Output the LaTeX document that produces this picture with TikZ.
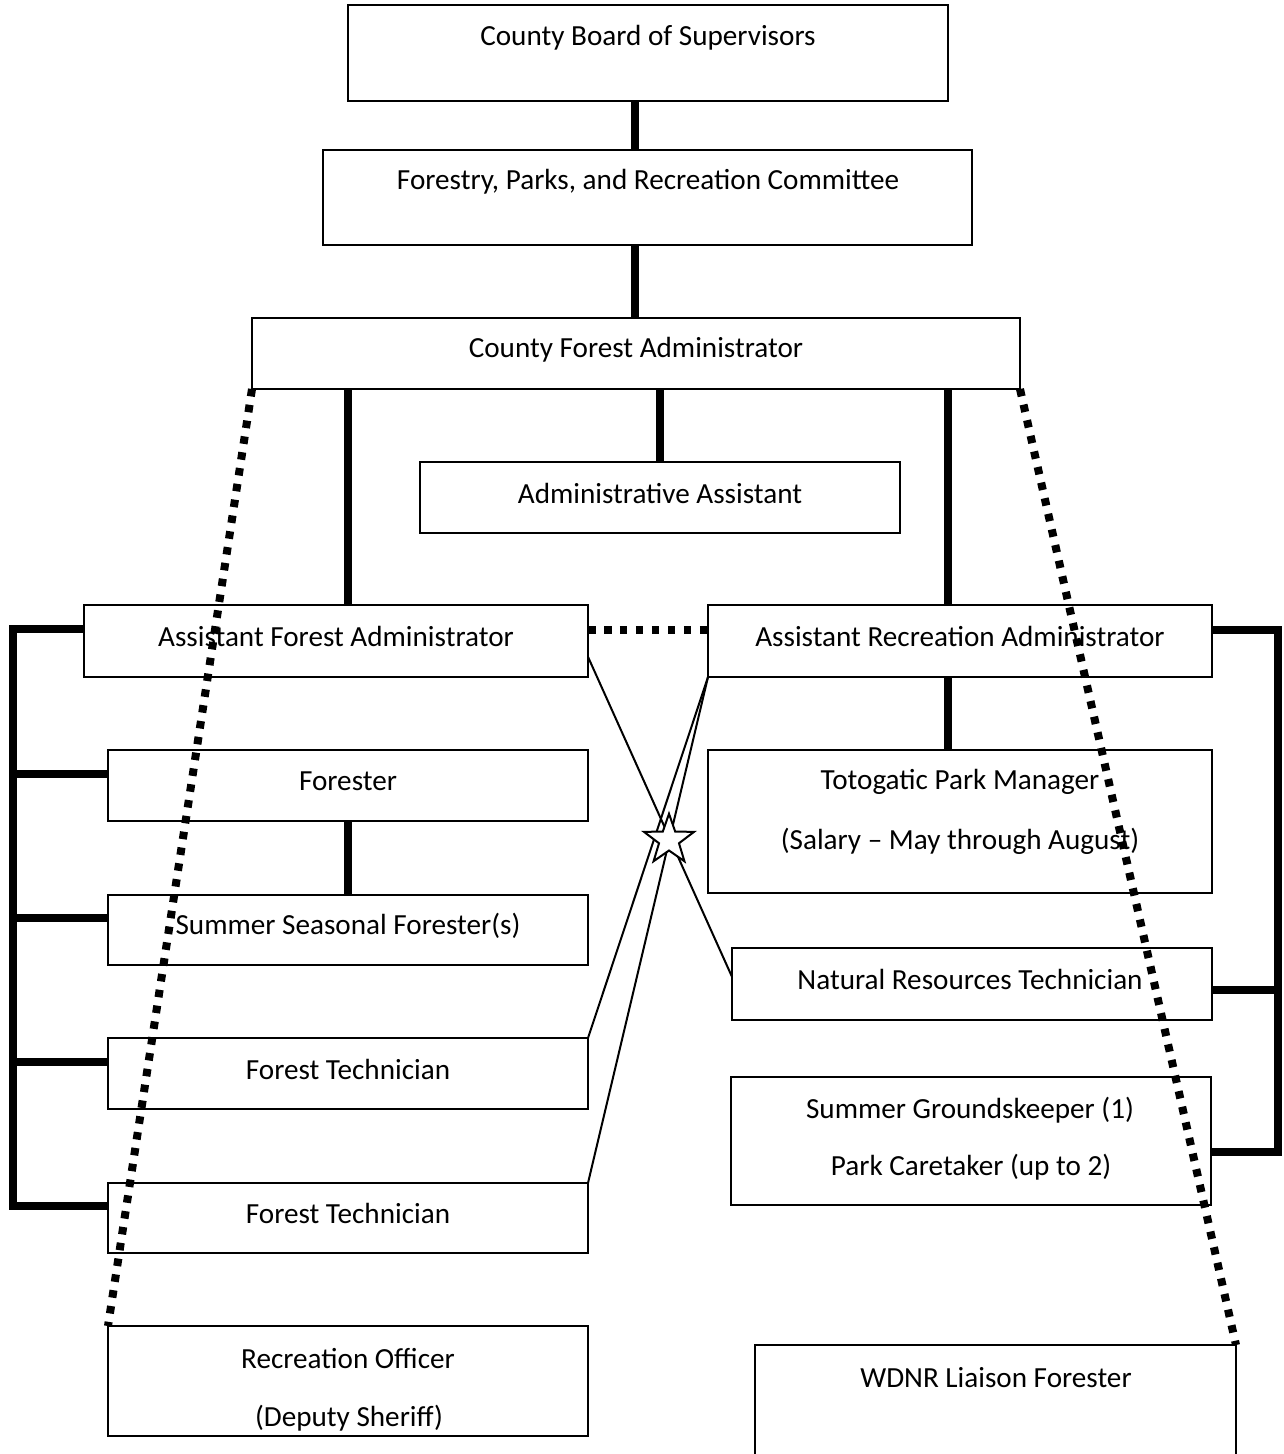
\documentclass[tikz,border=0pt]{standalone}
\usepackage{fontspec}
\setmainfont{Carlito}
\usepackage{tikz}
\usetikzlibrary{positioning}
\usetikzlibrary{calc}
\usetikzlibrary{shapes.geometric}

\begin{document}
\begin{tikzpicture}[x=0.02cm, y=-0.02cm,
  box/.style={draw, line width=0.04cm, inner sep=0pt, outer sep=0pt},
  lbl/.style={font=\fontsize{16.6pt}{20pt}\selectfont, inner sep=0pt, yshift=-0.05cm},
  stem/.style={line width=0.16cm},
  dots/.style={line width=0.16cm, dash pattern=on 0.15cm off 0.17cm},
  link/.style={line width=0.04cm}]

 \fill[white] (0,0) rectangle (1284,1454);
 \useasboundingbox (0,0) rectangle (1284,1454);
 \clip (0,0) rectangle (1284,1454);

 % boxes: name/left/top/right/bottom
 \foreach \n/\l/\t/\r/\b in { board/348/5/948/101, cttee/323/150/972/245,
        cfa/252/318/1020/389, aa/420/462/900/533,
        afa/84/605/588/677, ara/708/605/1212/677,
        forester/108/750/588/821, ssf/108/895/588/965,
        ft1/108/1038/588/1109, ft2/108/1183/588/1253,
        tpm/708/750/1212/893, nrt/732/948/1212/1020,
        sg/731/1077/1211/1205, ro/108/1326/588/1436,
        wdnr/755/1345/1236/1475 } {
         \node[box, minimum width={(\r-\l)*0.02cm}, minimum height={(\b-\t)*0.02cm}] (\n) at ({(\l+\r)/2},{(\t+\b)/2}) {};
 }

 % texts
 \foreach \x/\y/\s [count=\k] in { 648/35/County Board of Supervisors,
        648/179/{Forestry, Parks, and Recreation Committee},
        636/347/County Forest Administrator, 660/491/Administrative Assistant,
        336/634/Assistant Forest Administrator, 960/634/Assistant Recreation Administrator,
        348/779/Forester, 348/923/Summer Seasonal Forester(s),
        348/1067/Forest Technician, 348/1211/Forest Technician,
        960/779/Totogatic Park Manager, 960/839/(Salary – May through August),
        970/977/Natural Resources Technician,
        970/1108/Summer Groundskeeper (1), 971/1165/Park Caretaker (up to 2),
        348/1356/Recreation Officer, 349/1416/(Deputy Sheriff),
        996/1375/WDNR Liaison Forester } {
         \node[lbl] (txt\k) at (\x,\y) {\s};
 }

 % solid lines
 \draw[stem] (635,0 |- board.south) -- (635,0 |- cttee.north);
 \draw[stem] (635,0 |- cttee.south) -- (635,0 |- cfa.north);
 \draw[stem] (aa.north |- cfa.south) -- (aa.north);
 \draw[stem] (348,0 |- cfa.south) -- (348,0 |- afa.north);
 \draw[stem] (948,0 |- cfa.south) -- (948,0 |- ara.north);
 \draw[stem] (948,0 |- ara.south) -- (948,0 |- tpm.north);
 \draw[stem] (forester.south) -- (ssf.north);

 % left bracket
 \coordinate (lspine) at (13,900);
 \foreach \b in {afa,forester,ssf,ft1,ft2}
         \coordinate (tap\b) at ($(\b.west)+(0,-12)$);
 \draw[stem] (tapafa) -| (lspine) |- (tapft2);
 \foreach \b in {forester,ssf,ft1}
         \draw[stem] (tap\b) -- (lspine |- tap\b);

 % right bracket
 \coordinate (rspine) at (1278,900);
 \coordinate (tapara) at ($(ara.east)+(0,-11)$);
 \coordinate (tapnrt) at ($(nrt.east)+(0,6)$);
 \coordinate (tapsg) at ($(sg.east)+(0,11)$);
 \draw[stem] (tapara) -| (rspine) |- (tapsg);
 \draw[stem] (tapnrt) -- (rspine |- tapnrt);

 % dotted lines
 \draw[dots] (cfa.south west) -- (ro.north west);
 \draw[dots] (cfa.south east) -- (wdnr.north east);
 \draw[dots] ($(afa.east)+(0,-11)$) -- ($(ara.west)+(0,-11)$);

 % thin lines and star
 \draw[link] ($(afa.north east)!0.72!(afa.south east)$) -- ($(nrt.north west)!0.4!(nrt.south west)$);
 \draw[link] (ara.south west) -- (ft1.north east);
 \draw[link] (ara.south west) -- (ft2.north east);
 \node[star, star points=5, star point ratio=2.5, minimum size=1.05cm, draw, fill=white, line width=0.04cm, inner sep=0pt] (xstar) at (669,840) {};

\end{tikzpicture}
\end{document}
